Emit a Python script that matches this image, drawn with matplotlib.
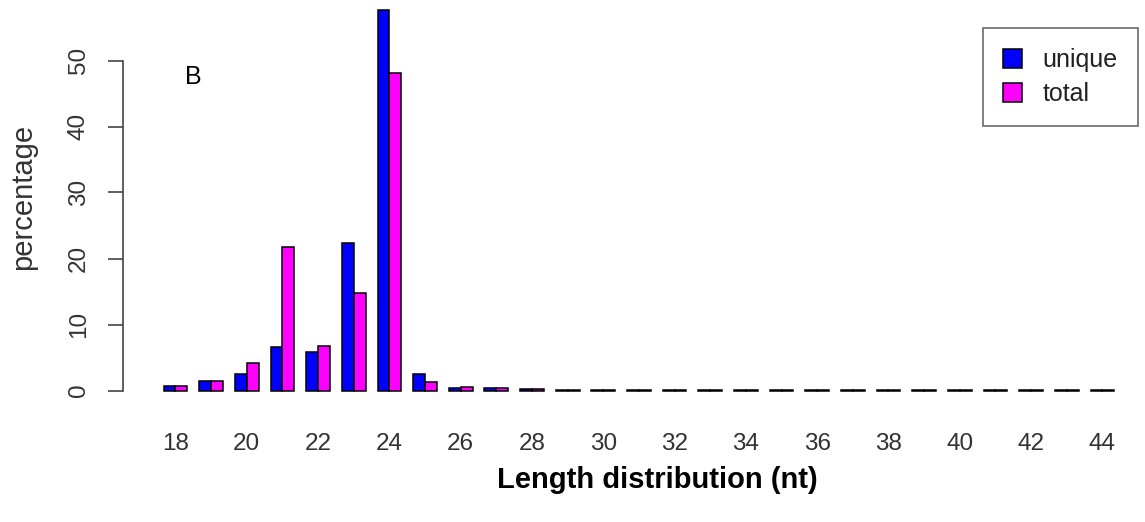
import matplotlib
matplotlib.use('Agg')
import matplotlib.pyplot as plt
import numpy as np

plt.rcParams['font.family'] = ['Liberation Sans', 'DejaVu Sans']

# 读数：长度 18..44 nt 的百分比
lengths = list(range(18, 45))
unique = [0.7, 1.4, 2.5, 6.6, 5.8, 22.3, 57.6, 2.5, 0.4, 0.35, 0.2, 0.15, 0.15, 0.1,
          0.04, 0.03, 0.03, 0.03, 0.03, 0.03, 0.03, 0.03, 0.03, 0.03, 0.03, 0.03, 0.03]
total = [0.7, 1.4, 4.1, 21.7, 6.7, 14.7, 48.1, 1.3, 0.6, 0.35, 0.2, 0.15, 0.15, 0.1,
         0.04, 0.03, 0.03, 0.03, 0.03, 0.03, 0.03, 0.03, 0.03, 0.03, 0.03, 0.03, 0.03]
tick_labels = [str(v) for v in lengths[::2]]

W, H = 1145, 522
fig = plt.figure(figsize=(W / 100, H / 100), dpi=100)

# 轴区域（像素）
left, right, top, bottom = 123, 1140, 5, 400
ax = fig.add_axes([left / W, 1 - bottom / H, (right - left) / W, (bottom - top) / H])

unit = 35.65 / 3
c0 = 175.5
centers = np.arange(len(lengths)) * 3 + 2
ax.bar(centers - 0.5, unique, width=1, color='#0000FF', edgecolor='black', linewidth=1.1, label='unique')
ax.bar(centers + 0.5, total, width=1, color='#FF00FF', edgecolor='black', linewidth=1.1, label='total')

ax.set_xlim(2 - (c0 - left) / unit, 2 + (right - c0) / unit)
ppu = (390.5 - 60.5) / 50
ax.set_ylim(-(bottom - 390.5) / ppu, (390.5 - top) / ppu)

for s in ['top', 'right', 'bottom']:
    ax.spines[s].set_visible(False)
ax.spines['left'].set_bounds(0, 50)
ax.spines['left'].set_color('#444444')
ax.spines['left'].set_linewidth(1.2)

ax.set_yticks([0, 10, 20, 30, 40, 50])
ax.set_yticklabels(['0', '10', '20', '30', '40', '50'], rotation=90, va='center')
ax.tick_params(axis='y', length=11, width=1.2, color='#444444', labelsize=17.5,
               labelcolor='#333333', pad=13)
ax.set_xticks(centers[::2])
ax.set_xticklabels(tick_labels)
ax.tick_params(axis='x', length=0, labelsize=17.5, labelcolor='#333333', pad=24)

fig.text(23 / W, 1 - 197 / H, 'percentage', rotation=90, ha='center', va='center',
         fontsize=21, color='#333333')
fig.text(657 / W, 1 - 480 / H, 'Length distribution (nt)', ha='center', va='center',
         fontsize=21, fontweight='bold', color='black')
fig.text(193 / W, 1 - 77 / H, 'B', ha='center', va='center', fontsize=18, color='black')

leg = ax.legend(loc='upper right', bbox_to_anchor=(1138 / W, 1 - 28 / H),
                bbox_transform=fig.transFigure, fontsize=18, fancybox=False,
                frameon=True, edgecolor='#444444', borderpad=0.8, handlelength=0.76,
                handleheight=0.76, handletextpad=0.85, labelspacing=0.4, borderaxespad=0)
leg.get_frame().set_linewidth(1.2)
for t in leg.get_texts():
    t.set_color('#222222')

fig.savefig('out.png', dpi=100)
